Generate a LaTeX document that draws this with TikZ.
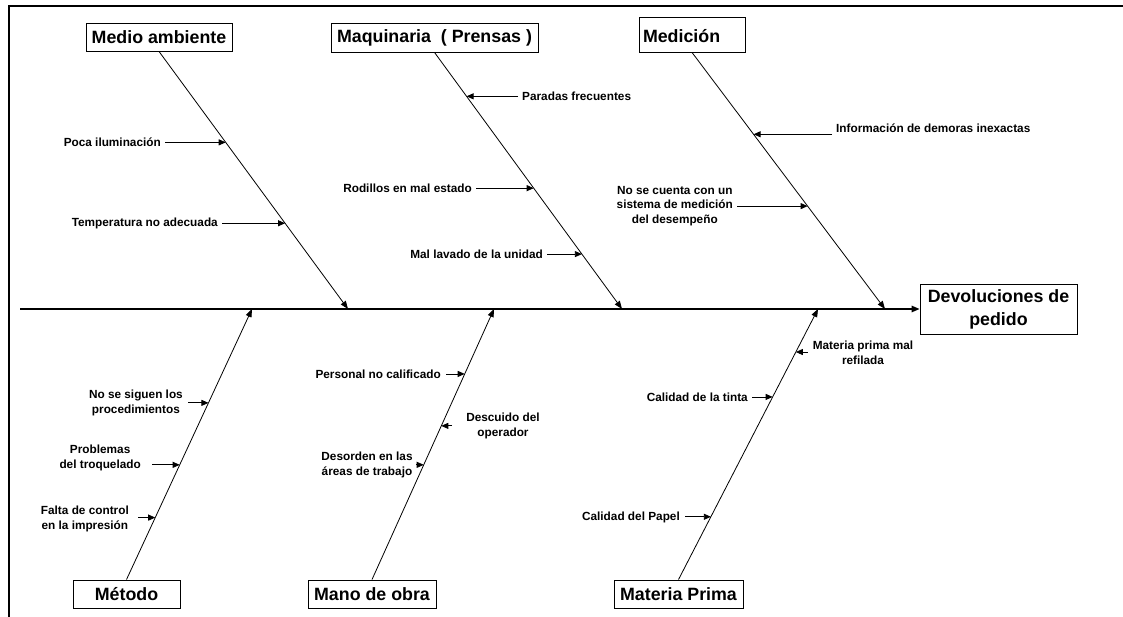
\documentclass[tikz,border=0pt]{standalone}
\usepackage{fontspec}
\setmainfont{Liberation Sans}
\usetikzlibrary{arrows.meta,calc}
\begin{document}
\begin{tikzpicture}[x=1pt,y=-1pt,
  box/.style={draw,line width=0.9pt,font=\bfseries\fontsize{17.8}{23}\selectfont,inner sep=0pt,align=center},
  lbl/.style={font=\bfseries\fontsize{11.8}{14.5}\selectfont,inner sep=0pt,align=center},
  bone/.style={line width=0.8pt,-{Triangle[length=8pt,width=6pt]}},
  arr/.style={line width=0.8pt,-{Triangle[length=7pt,width=6pt]}},
  spine/.style={line width=1.3pt,-{Triangle[length=8pt,width=6.5pt]}},
  frame/.style={line width=2.8pt}
]
\useasboundingbox (0,0) rectangle (1123,617);
\draw[frame] (9,617) -- (9,6) -- (1123,6);

% category boxes
\node[box,minimum width=146pt,minimum height=28pt] (ma) at (159,37) {Medio ambiente};
\node[box,minimum width=207pt,minimum height=29pt] (mq) at (434.5,37.5) {Maquinaria\ \ ( Prensas )};
\node[box,minimum width=106pt,minimum height=35pt] (md) at (692,34.5) {\makebox[98pt][l]{\raisebox{-8.4pt}[0pt][0pt]{Medición}}};
\node[box,minimum width=107pt,minimum height=28pt] (mt) at (126.5,594) {Método};
\node[box,minimum width=128pt,minimum height=28pt] (mo) at (372,594) {Mano de obra};
\node[box,minimum width=129pt,minimum height=28pt] (mp) at (678.5,594) {Materia Prima};
\node[box,minimum width=157pt,minimum height=50pt] (ef) at (998.5,309) {Devoluciones de\\pedido};

% spine
\coordinate (sp0) at (20,309);
\draw[spine] (sp0) -- (ef.west);

% bone ends on spine
\coordinate (e1) at (348,309);
\coordinate (e2) at (622,309);
\coordinate (e3) at (885,309);
\coordinate (e4) at (252,309);
\coordinate (e5) at (494,309);
\coordinate (e6) at (818,309);

\draw[bone] (ma.south) -- (e1);
\draw[bone] (mq.south) -- (e2);
\draw[bone] (md.south) -- (e3);
\draw[bone] (mt.north) -- (e4);
\draw[bone] (mo.north) -- (e5);
\draw[bone] (mp.north) -- (e6);

% points on bones
\coordinate (t1) at ($(ma.south)!0.353!(e1)$);
\coordinate (t2) at ($(ma.south)!0.667!(e1)$);
\coordinate (t3) at ($(mq.south)!0.171!(e2)$);
\coordinate (t4) at ($(mq.south)!0.529!(e2)$);
\coordinate (t5) at ($(mq.south)!0.786!(e2)$);
\coordinate (t6) at ($(md.south)!0.319!(e3)$);
\coordinate (t7) at ($(md.south)!0.599!(e3)$);
\coordinate (t8) at ($(mt.north)!0.653!(e4)$);
\coordinate (t9) at ($(mt.north)!0.424!(e4)$);
\coordinate (t10) at ($(mt.north)!0.229!(e4)$);
\coordinate (t11) at ($(mo.north)!0.760!(e5)$);
\coordinate (t12) at ($(mo.north)!0.568!(e5)$);
\coordinate (t13) at ($(mo.north)!0.424!(e5)$);
\coordinate (t14) at ($(mp.north)!0.841!(e6)$);
\coordinate (t15) at ($(mp.north)!0.675!(e6)$);
\coordinate (t16) at ($(mp.north)!0.232!(e6)$);

% labels
\node[lbl,anchor=east] (l1) at (161,142) {Poca iluminación};
\node[lbl,anchor=east] (l2) at (218,223) {Temperatura no adecuada};
\node[lbl,anchor=west] (l3) at (522,96) {Paradas frecuentes};
\node[lbl,anchor=east] (l4) at (472,188) {Rodillos en mal estado};
\node[lbl,anchor=east] (l5) at (543,254) {Mal lavado de la unidad};
\node[lbl,anchor=west] (l6) at (836,128) {Información de demoras inexactas};
\node[lbl,anchor=east] (l7) at (733,206) {No se cuenta con un\\sistema de medición\\del desempeño};
\node[lbl,anchor=east] (l8) at (183,403) {No se siguen los\\procedimientos};
\node[lbl,anchor=east] (l9) at (141,458) {Problemas\\del troquelado};
\node[lbl,anchor=east] (l10) at (129,519) {Falta de control\\en la impresión};
\node[lbl,anchor=east] (l11) at (441,374) {Personal no calificado};
\node[lbl] (l12) at (503,426) {Descuido del\\operador};
\node[lbl] (l13) at (367,465) {Desorden en las\\áreas de trabajo};
\node[lbl] (l14) at (863,353) {Materia prima mal\\refilada};
\node[lbl,anchor=east] (l15) at (748,397) {Calidad de la tinta};
\node[lbl,anchor=east] (l16) at (680,517) {Calidad del Papel};

% arrows
\draw[arr] ($(l1.east |- t1)+(4,0)$) -- (t1);
\draw[arr] ($(l2.east |- t2)+(4,0)$) -- (t2);
\draw[arr] ($(l3.west |- t3)+(-4,0)$) -- (t3);
\draw[arr] ($(l4.east |- t4)+(4,0)$) -- (t4);
\draw[arr] ($(l5.east |- t5)+(4,0)$) -- (t5);
\draw[arr] ($(l6.west |- t6)+(-4,0)$) -- (t6);
\draw[arr] ($(l7.east |- t7)+(4,0)$) -- (t7);
\draw[arr] ($(l8.east |- t8)+(5,0)$) -- (t8);
\draw[arr] ($(l9.east |- t9)+(11,0)$) -- (t9);
\draw[arr] ($(l10.east |- t10)+(9,0)$) -- (t10);
\draw[arr] ($(l11.east |- t11)+(5,0)$) -- (t11);
\draw[arr] ($(l12.west |- t12)+(-14,0)$) -- (t12);
\draw[arr] ($(l13.east |- t13)+(3,0)$) -- (t13);
\draw[arr] ($(l14.west |- t14)+(-5,0)$) -- (t14);
\draw[arr] ($(l15.east |- t15)+(4,0)$) -- (t15);
\draw[arr] ($(l16.east |- t16)+(5,0)$) -- (t16);
\end{tikzpicture}
\end{document}
